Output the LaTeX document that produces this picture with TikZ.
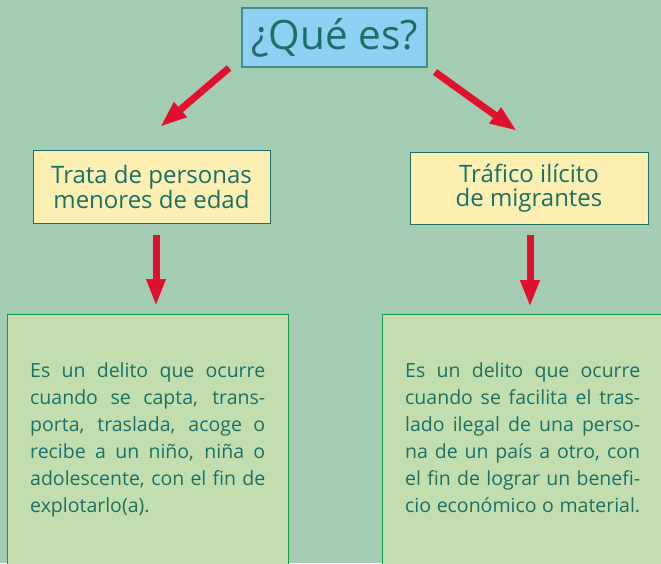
\documentclass[tikz,border=0pt]{standalone}
\usepackage{fontspec}
\setmainfont{Open Sans}
\usetikzlibrary{arrows.meta}
\definecolor{fondo}{HTML}{A4CCB3}
\definecolor{tinta}{HTML}{1B6F66}
\definecolor{celeste}{HTML}{8DD0F2}
\definecolor{crema}{HTML}{FEF0B2}
\definecolor{verdeclaro}{HTML}{C3DEAE}
\definecolor{rojo}{HTML}{E2102F}
\tikzset{
  titulo/.style={draw=tinta!80, line width=1.2pt, fill=celeste, text=tinta,
    font=\fontsize{40.5}{42}\selectfont, minimum width=185pt, minimum height=59pt, inner sep=0pt},
  tema/.style={draw=tinta, line width=1pt, fill=crema, text=tinta, align=center,
    font=\fontsize{24}{23.5}\selectfont, minimum width=237pt, minimum height=73pt, inner sep=0pt},
  cuadro/.style={draw=tinta!70!green, line width=1pt, fill=verdeclaro, anchor=north west},
  texto/.style={text=tinta, text width=235pt, align=left, anchor=north west, inner sep=0pt,
    font=\fontsize{19.5}{27}\selectfont},
  flecha/.style={rojo, line width=7pt, -{Triangle[width=18pt,length=27pt]}}
}
\newcommand{\linea}[1]{\leavevmode\hbox to 235pt{\spaceskip=0.25em plus 1fil\relax #1}}
\begin{document}
\begin{tikzpicture}[x=1pt,y=-1pt]
\useasboundingbox (0,0) rectangle (661,563);
\clip (0,0) rectangle (661,563);
\fill[fondo] (0,0) rectangle (661,563);
% titulo
\node[titulo] (que) at (334.5,37.5) {¿Qué es?};
% temas
\node[tema] (trata) at (151.5,186.5) {Trata de personas\\menores de edad};
\node[tema, minimum width=238pt, minimum height=72pt] (trafico) at (529,188) {Tráfico ilícito\\de migrantes};
% definiciones
\node[cuadro, minimum width=281pt, minimum height=270pt] (def1) at (7,314) {};
\node[cuadro, minimum width=290pt, minimum height=270pt] (def2) at (382,314) {};
\node[texto] (txt1) at (30,362) {\linea{Es un delito que ocurre}\\
\linea{cuando se capta, trans-}\\
\linea{porta, traslada, acoge o}\\
\linea{recibe a un niño, niña o}\\
\linea{adolescente, con el fin de}\\
explotarlo(a).};
\node[texto] (txt2) at (405,362) {\linea{Es un delito que ocurre}\\
\linea{cuando se facilita el tras-}\\
\linea{lado ilegal de una perso-}\\
\linea{na de un país a otro, con}\\
\linea{el fin de lograr un benefi-}\\
\linea{cio económico o material.}};
% flechas
\coordinate (f1a) at (229,68);
\coordinate (f1b) at (160,127);
\coordinate (f2a) at (435,72);
\coordinate (f2b) at (517,131);
\coordinate (f3a) at (156,235);
\coordinate (f3b) at (156,306);
\coordinate (f4a) at (530,235);
\coordinate (f4b) at (530,307);
\draw[flecha] (f1a) -- (f1b);
\draw[flecha] (f2a) -- (f2b);
\draw[flecha] (f3a) -- (f3b);
\draw[flecha] (f4a) -- (f4b);
\end{tikzpicture}
\end{document}
